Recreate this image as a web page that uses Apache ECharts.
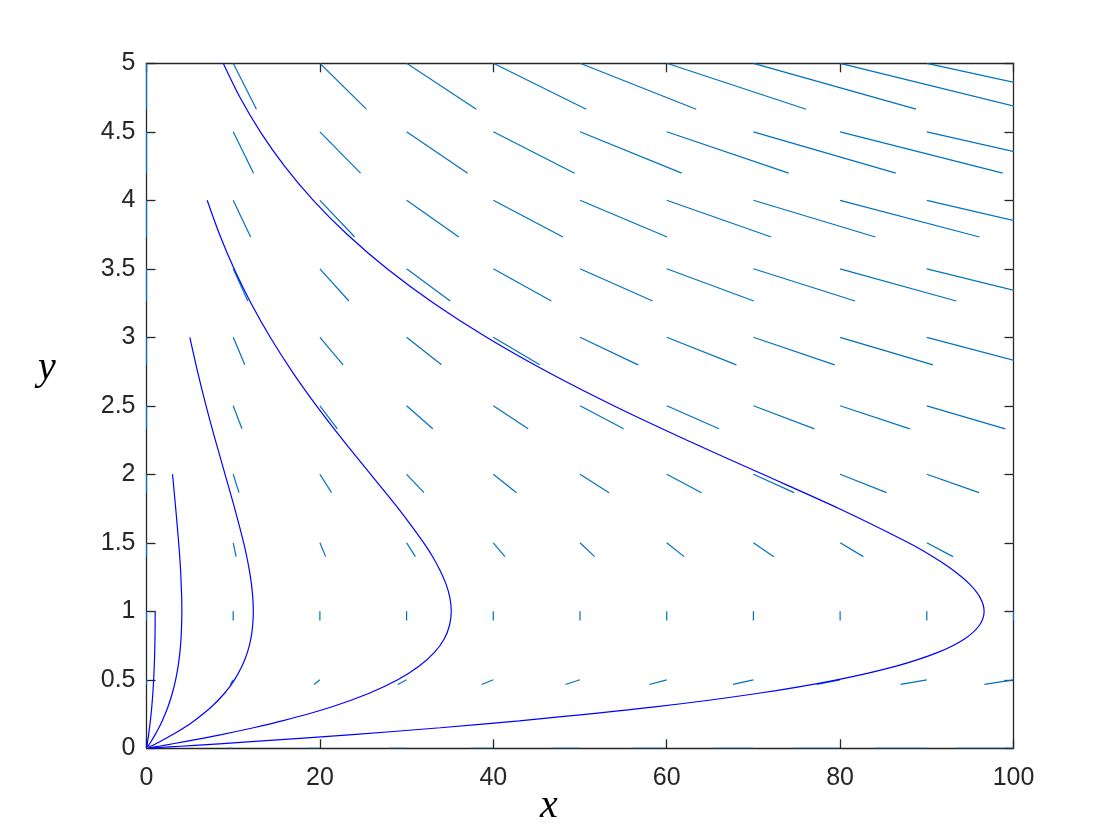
<!DOCTYPE html>
<html><head><meta charset="utf-8">
<script src="https://cdn.jsdelivr.net/npm/echarts@6/dist/echarts.min.js"></script>
<style>html,body{margin:0;padding:0;background:#fff}#c{width:1120px;height:840px}</style>
</head><body><div id="c"></div><script>
// ---- direction field (quiver) grid ----
const quiverX = [0, 10, 20, 30, 40, 50, 60, 70, 80, 90, 100];
const quiverY = [0, 0.5, 1, 1.5, 2, 2.5, 3, 3.5, 4, 4.5, 5];
// horizontal component of each segment, one row per quiverY value
const quiverU = [
  [0, -0.67, -1.34, -2.01, -2.68, -3.35, -4.02, -4.69, -5.36, -6.03, -6.70],
  [0, -0.34, -0.67, -1.01, -1.34, -1.68, -2.01, -2.35, -2.68, -3.02, -3.35],
  [0, 0, 0, 0, 0, 0, 0, 0, 0, 0, 0],
  [0, 0.34, 0.67, 1.01, 1.34, 1.68, 2.01, 2.35, 2.68, 3.02, 3.35],
  [0, 0.67, 1.34, 2.01, 2.68, 3.35, 4.02, 4.69, 5.36, 6.03, 6.70],
  [0, 1.01, 2.01, 3.02, 4.02, 5.03, 6.03, 7.04, 8.04, 9.05, 10.05],
  [0, 1.34, 2.68, 4.02, 5.36, 6.70, 8.04, 9.38, 10.72, 12.06, 13.40],
  [0, 1.68, 3.35, 5.03, 6.70, 8.38, 10.05, 11.73, 13.40, 15.08, 16.75],
  [0, 2.01, 4.02, 6.03, 8.04, 10.05, 12.06, 14.07, 16.08, 18.09, 20.10],
  [0, 2.35, 4.69, 7.04, 9.38, 11.73, 14.07, 16.42, 18.76, 21.11, 23.45],
  [0, 2.68, 5.36, 8.04, 10.72, 13.40, 16.08, 18.76, 21.44, 24.12, 26.80]
];
// vertical component of the segments in each row
const quiverV = [0, -0.034, -0.067, -0.101, -0.134, -0.168, -0.201, -0.235, -0.268, -0.302, -0.335];

// ---- trajectories ----
const traj1X = [1.00, 0.995, 0.977, 0.945, 0.895, 0.824, 0.729, 0.604, 0.445, 0.246, 0.129, 0.053, 0.03];
const traj1Y = [1.00, 0.9, 0.8, 0.7, 0.6, 0.5, 0.4, 0.3, 0.2, 0.1, 0.05, 0.02, 0.01];

const traj2X = [3.00, 3.37, 3.71, 3.83, 3.93, 4.00, 4.06, 4.08, 4.05, 3.98, 3.85, 3.65, 3.36, 2.97, 2.46, 1.81, 1.43, 1.00, 0.53, 0.22, 0.10];
const traj2Y = [2, 1.75, 1.5, 1.4, 1.3, 1.2, 1.1, 1.0, 0.9, 0.8, 0.7, 0.6, 0.5, 0.4, 0.3, 0.2, 0.15, 0.1, 0.05, 0.02, 0.009];

const traj3X = [5.00, 5.89, 6.87, 7.94, 9.06, 10.18, 11.21, 11.56, 11.86, 12.10, 12.26, 12.32, 12.25, 12.04, 11.64, 11.02, 10.15, 8.98, 7.44, 5.48, 4.32, 3.03, 1.59, 0.66, 0.20];
const traj3Y = [3, 2.75, 2.5, 2.25, 2, 1.75, 1.5, 1.4, 1.3, 1.2, 1.1, 1.0, 0.9, 0.8, 0.7, 0.6, 0.5, 0.4, 0.3, 0.2, 0.15, 0.1, 0.05, 0.02, 0.006];

const traj4X = [7.00, 8.43, 10.10, 12.04, 14.27, 16.80, 19.61, 22.66, 25.86, 29.06, 31.98, 32.99, 33.85, 34.54, 34.99, 35.15, 34.96, 34.35, 33.21, 31.46, 28.98, 25.62, 21.24, 15.65, 12.34, 8.65, 4.54, 1.87, 0.95, 0.30];
const traj4Y = [4, 3.75, 3.5, 3.25, 3, 2.75, 2.5, 2.25, 2, 1.75, 1.5, 1.4, 1.3, 1.2, 1.1, 1.0, 0.9, 0.8, 0.7, 0.6, 0.5, 0.4, 0.3, 0.2, 0.15, 0.1, 0.05, 0.02, 0.01, 0.003];

const traj5X = [8.85, 10.79, 13.13, 15.92, 19.24, 23.16, 27.75, 33.09, 39.22, 46.17, 53.89, 62.28, 71.08, 79.86, 87.89, 90.66, 93.04, 94.91, 96.15, 96.61, 96.09, 94.39, 91.28, 86.47, 79.64, 70.41, 58.36, 43.00, 33.90, 23.76, 12.49, 5.15, 2.60, 1.30, 0.50];
const traj5Y = [5, 4.75, 4.5, 4.25, 4, 3.75, 3.5, 3.25, 3, 2.75, 2.5, 2.25, 2, 1.75, 1.5, 1.4, 1.3, 1.2, 1.1, 1.0, 0.9, 0.8, 0.7, 0.6, 0.5, 0.4, 0.3, 0.2, 0.15, 0.1, 0.05, 0.02, 0.01, 0.005, 0.002];

const trajectories = [[traj1X, traj1Y], [traj2X, traj2Y], [traj3X, traj3Y], [traj4X, traj4Y], [traj5X, traj5Y]];

// ---- build ----
const quiverData = [];
quiverY.forEach(function (y, i) {
  quiverX.forEach(function (x, j) {
    quiverData.push([x, y, quiverU[i][j], quiverV[i]]);
  });
});

const axisColor = '#262626';
const labelFont = {fontSize: 25, color: axisColor, fontFamily: 'Liberation Sans, Arial, sans-serif'};
function xAx(pos, showLabel) {
  return {
    type: 'value', min: 0, max: 100, interval: 20, position: pos,
    axisLine: {show: true, onZero: false, lineStyle: {color: axisColor, width: 1.3}},
    axisTick: {show: true, inside: true, length: 9, lineStyle: {color: axisColor, width: 1.3}},
    axisLabel: Object.assign({show: showLabel, margin: 17}, labelFont),
    splitLine: {show: false}
  };
}
function yAx(pos, showLabel) {
  return {
    type: 'value', min: 0, max: 5, interval: 0.5, position: pos,
    axisLine: {show: true, onZero: false, lineStyle: {color: axisColor, width: 1.3}},
    axisTick: {show: true, inside: true, length: 9, lineStyle: {color: axisColor, width: 1.3}},
    axisLabel: Object.assign({show: showLabel, margin: 11}, labelFont),
    splitLine: {show: false}
  };
}

const series = [{
  type: 'custom',
  xAxisIndex: 0, yAxisIndex: 0,
  clip: true,
  z: 2,
  encode: {x: 0, y: 1},
  data: quiverData,
  renderItem: function (params, api) {
    const x = api.value(0), y = api.value(1);
    const p0 = api.coord([x, y]);
    const p1 = api.coord([x + api.value(2), y + api.value(3)]);
    return {type: 'line', shape: {x1: p0[0], y1: p0[1], x2: p1[0], y2: p1[1]},
      style: {stroke: '#0072BD', lineWidth: 1.2}};
  }
}];
trajectories.forEach(function (t) {
  series.push({
    type: 'line', xAxisIndex: 0, yAxisIndex: 0, symbol: 'none', showSymbol: false,
    clip: true, z: 3, smooth: 0.3,
    lineStyle: {color: '#0000FF', width: 1.2},
    data: t[0].map(function (x, i) { return [x, t[1][i]]; })
  });
});

const chart = echarts.init(document.getElementById('c'));
chart.setOption({
  animation: false,
  backgroundColor: '#ffffff',
  grid: {left: 146.5, right: 106.5, top: 63.3, bottom: 91.7, containLabel: false, outerBoundsMode: 'none'},
  xAxis: [xAx('bottom', true), xAx('top', false)],
  yAxis: [yAx('left', true), yAx('right', false)],
  graphic: [
    {type: 'text', x: 549, y: 806, style: {text: 'x', fontSize: 40, fontStyle: 'italic', fontFamily: 'Liberation Serif, Times New Roman, serif', fill: '#000', textAlign: 'center', textVerticalAlign: 'middle'}},
    {type: 'text', x: 47, y: 368, style: {text: 'y', fontSize: 40, fontStyle: 'italic', fontFamily: 'Liberation Serif, Times New Roman, serif', fill: '#000', textAlign: 'center', textVerticalAlign: 'middle'}}
  ],
  series: series
});
</script></body></html>
